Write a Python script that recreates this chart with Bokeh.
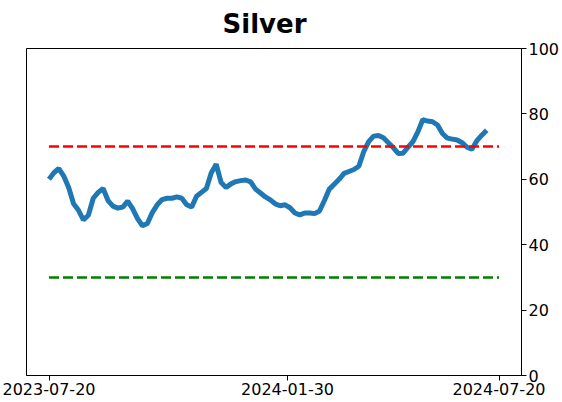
import pandas as pd
from bokeh.plotting import figure
from bokeh.models import Range1d, FixedTicker, DatetimeTickFormatter
from bokeh.embed import file_html
from bokeh.resources import INLINE

title_text = "Silver"
tick_labels = ["2023-07-20", "2024-01-30", "2024-07-20"]
y_ticks = [0, 20, 40, 60, 80, 100]
upper_level = 70
lower_level = 30
level_start = "2023-07-20"
level_end = "2024-07-20"

start_date = "2023-07-20"
end_date = "2024-07-10"
values = [
    60, 62, 63.3, 61, 57.5, 52.5, 50.5, 47.6, 49, 54.2,
    56, 57.2, 53.5, 51.8, 51.2, 51.5, 53.3, 51, 48, 45.8,
    46.5, 49.8, 52.2, 53.8, 54.2, 54.2, 54.6, 54.2, 52.2, 51.5,
    54.8, 56, 57.2, 62, 64.6, 59, 57.5, 58.6, 59.3, 59.6,
    59.8, 59.2, 57, 55.8, 54.6, 53.7, 52.5, 51.9, 52.2, 51.3,
    49.7, 49.1, 49.7, 49.7, 49.5, 50.3, 53.5, 57, 58.5, 60,
    61.8, 62.4, 63, 64, 68.5, 71.5, 73.2, 73.4, 72.7, 71.2,
    69.7, 67.9, 68, 69.8, 71.5, 74.5, 78.2, 77.8, 77.6, 76.6,
    74, 72.6, 72.3, 72, 71.2, 69.8, 69.2, 71.8, 73.5, 75,
]
dates = pd.date_range(start_date, end_date, periods=len(values))

t0 = pd.Timestamp(level_start)
t1 = pd.Timestamp(level_end)
pad = (t1 - t0) * 0.05

p = figure(
    width=562, height=402,
    x_axis_type="datetime", y_axis_location="right",
    x_range=Range1d(t0 - pad, t1 + pad), y_range=Range1d(0, 100),
    output_backend="svg", toolbar_location=None,
    min_border_left=26, min_border_right=40, min_border_top=48, min_border_bottom=27,
)
p.title.text = title_text
p.title.text_font = "DejaVu Sans"
p.title.text_font_style = "bold"
p.title.text_font_size = "26px"
p.title.text_color = "black"
p.title.align = "left"
p.title.offset = 196
p.title.standoff = 16
p.title.vertical_align = "top"

p.grid.visible = False
p.outline_line_color = "black"
p.outline_line_alpha = 1
p.outline_line_width = 1
p.background_fill_color = "white"
p.border_fill_color = "white"

p.line(dates, values, line_color="#1f77b4", line_width=5)
p.line([t0, t1], [upper_level, upper_level], line_color="#ff0000", line_width=2.5, line_dash="10 4")
p.line([t0, t1], [lower_level, lower_level], line_color="#008000", line_width=2.5, line_dash="10 4")

for ax in (p.xaxis[0], p.yaxis[0]):
    ax.major_label_text_font = "DejaVu Sans"
    ax.major_label_text_font_size = "16px"
    ax.major_label_text_color = "black"
    ax.axis_line_color = "black"
    ax.major_tick_line_color = "black"
    ax.minor_tick_line_color = None
    ax.major_tick_out = 5
    ax.major_tick_in = 0
    ax.major_label_standoff = 2

p.xaxis.ticker = FixedTicker(ticks=[pd.Timestamp(s).value / 1e6 for s in tick_labels])
fmt = "%Y-%m-%d"
p.xaxis.formatter = DatetimeTickFormatter(
    milliseconds=fmt, seconds=fmt, minsec=fmt, minutes=fmt, hourmin=fmt,
    hours=fmt, days=fmt, months=fmt, years=fmt,
)
p.yaxis.ticker = FixedTicker(ticks=y_ticks)

open("out.html", "w").write(file_html(p, INLINE))
